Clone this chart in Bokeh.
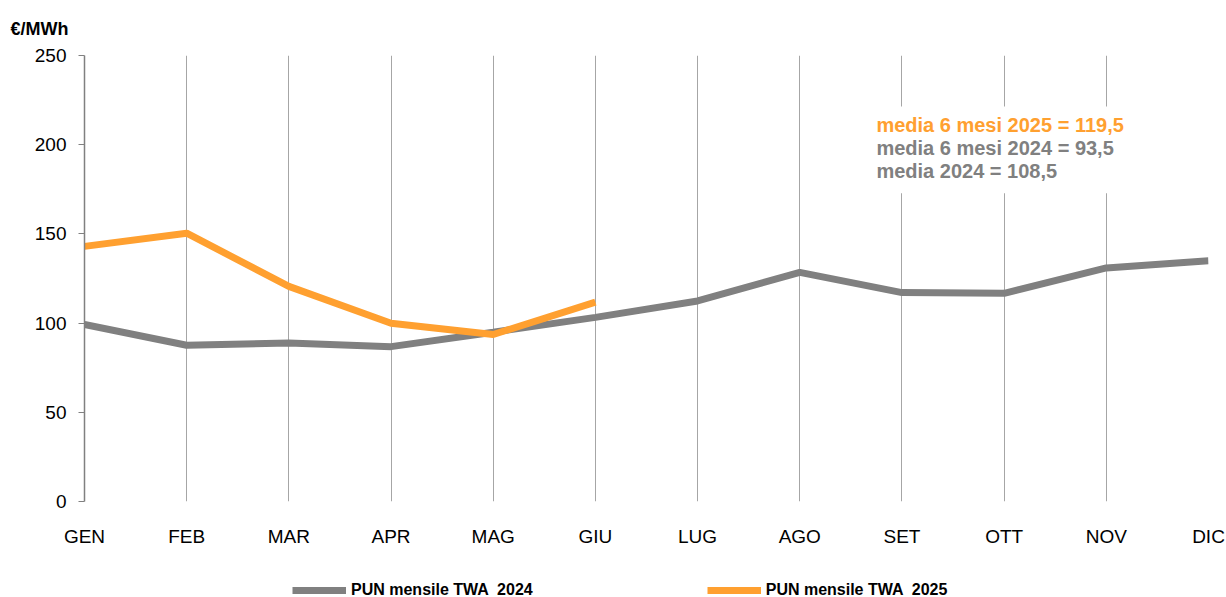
from bokeh.plotting import figure
from bokeh.layouts import column
from bokeh.models import Range1d, Label, BoxAnnotation, Legend, LegendItem, FixedTicker
from bokeh.embed import file_html
from bokeh.resources import INLINE

months = ["GEN", "FEB", "MAR", "APR", "MAG", "GIU", "LUG", "AGO", "SET", "OTT", "NOV", "DIC"]
pun_2024 = [99.2, 87.6, 88.9, 86.8, 94.9, 103.2, 112.4, 128.4, 117.1, 116.7, 130.9, 135.0]
pun_2025 = [143.0, 150.4, 120.6, 99.9, 93.6, 111.8]
y_ticks = [0, 50, 100, 150, 200, 250]
notes = ["media 6 mesi 2025 = 119,5", "media 6 mesi 2024 = 93,5", "media 2024 = 108,5"]
series_names = ["PUN mensile TWA  2024", "PUN mensile TWA  2025"]

GRAY = "#808080"
ORANGE = "#FFA030"
FONT = "Liberation Sans"

p = figure(width=1226, height=560, output_backend="svg", toolbar_location=None,
           x_range=Range1d(0, len(months) - 1), y_range=Range1d(0, 250),
           min_border_left=84, min_border_right=18, min_border_top=54, min_border_bottom=59,
           title="€/MWh")
p.outline_line_color = None
p.background_fill_color = "white"
p.border_fill_color = "white"

p.title.align = "left"
p.title.offset = -74
p.title.standoff = 33
p.title.text_font = FONT
p.title.text_font_style = "bold"
p.title.text_font_size = "18px"
p.title.text_color = "black"

# axes
p.yaxis.ticker = FixedTicker(ticks=y_ticks)
p.yaxis.axis_line_color = GRAY
p.yaxis.axis_line_width = 1.5
p.yaxis.major_tick_line_color = GRAY
p.yaxis.major_tick_out = 6
p.yaxis.major_tick_in = 0
p.yaxis.minor_tick_line_color = None
p.yaxis.major_label_standoff = 12
p.yaxis.major_label_text_font = FONT
p.yaxis.major_label_text_font_size = "19px"
p.yaxis.major_label_text_color = "black"

xs = list(range(len(months)))
p.xaxis.ticker = FixedTicker(ticks=xs)
p.xaxis.major_label_overrides = {i: m for i, m in enumerate(months)}
p.xaxis.axis_line_color = None
p.xaxis.major_tick_line_color = None
p.xaxis.minor_tick_line_color = None
p.xaxis.major_label_standoff = 18
p.xaxis.major_label_text_font = FONT
p.xaxis.major_label_text_font_size = "19px"
p.xaxis.major_label_text_color = "black"

p.ygrid.grid_line_color = None
p.xgrid.grid_line_color = "#a6a6a6"
p.xgrid.grid_line_width = 1

# white box behind notes (hides gridlines)
p.add_layout(BoxAnnotation(left=7.75, right=10.55, top=250 - (105 - 54) / 1.788, bottom=250 - (192 - 54) / 1.788,
                           fill_color="white", fill_alpha=1, line_color=None, level="underlay"))

p.line(xs, pun_2024, line_color=GRAY, line_width=7)
p.line(xs[:len(pun_2025)], pun_2025, line_color=ORANGE, line_width=7)

note_colors = [ORANGE, GRAY, GRAY]
for i, (t, c) in enumerate(zip(notes, note_colors)):
    ypx = 124 + 23 * i
    p.add_layout(Label(x=7.75, y=250 - (ypx - 54) / 1.788, text=t,
                       text_color=c, text_font=FONT, text_font_style="bold",
                       text_font_size="20px", text_baseline="middle", text_align="left"))

# legend strip below the chart (its frame is aligned with the chart frame)
lg = figure(width=1226, height=37, output_backend="svg", toolbar_location=None,
            x_range=Range1d(0, 1), y_range=Range1d(0, 1),
            min_border_left=0, min_border_right=0, min_border_top=0, min_border_bottom=0)
lg.axis.visible = False
lg.grid.visible = False
lg.outline_line_color = None
lg.border_fill_color = "white"
# same series, lying outside this strip's range: only their legend swatches show
g24 = lg.line(xs, pun_2024, line_color=GRAY, line_width=7)
g25 = lg.line(xs[:len(pun_2025)], pun_2025, line_color=ORANGE, line_width=7)
legend = Legend(items=[LegendItem(label=series_names[0], renderers=[g24]),
                       LegendItem(label=series_names[1], renderers=[g25])],
                location=(208, -2), orientation="horizontal",
                padding=0, margin=0, spacing=174, border_line_color=None,
                background_fill_alpha=0, glyph_width=54, glyph_height=14, label_height=14,
                label_standoff=5, label_text_font=FONT, label_text_font_style="bold",
                label_text_font_size="16px", label_text_color="black")
lg.add_layout(legend, "center")

layout = column(p, lg, spacing=0)
open("out.html", "w").write(file_html(layout, INLINE))
